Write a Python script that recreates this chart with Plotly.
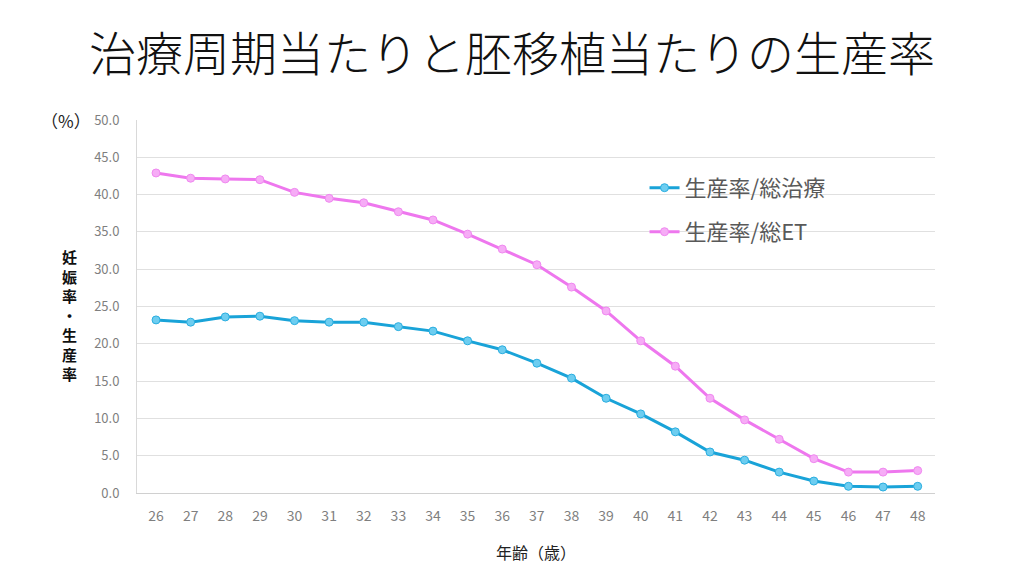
import plotly.graph_objects as go

ages = [str(a) for a in range(26, 49)]
birth_per_treatment = [23.2, 22.9, 23.6, 23.7, 23.1, 22.9, 22.9, 22.3, 21.7, 20.4, 19.2, 17.4,
                       15.4, 12.7, 10.6, 8.2, 5.5, 4.4, 2.8, 1.6, 0.9, 0.8, 0.9]
birth_per_et = [42.9, 42.2, 42.1, 42.0, 40.3, 39.5, 38.9, 37.7, 36.6, 34.7, 32.7, 30.6,
                27.6, 24.4, 20.4, 17.0, 12.7, 9.8, 7.2, 4.6, 2.8, 2.8, 3.0]
y_ticks = [0, 5, 10, 15, 20, 25, 30, 35, 40, 45, 50]
y_title = "妊娠率・生産率"

FONT = "Noto Sans CJK JP"

fig = go.Figure()
fig.add_trace(go.Scatter(
    x=ages, y=birth_per_treatment, mode="lines+markers", name="生産率/総治療",
    line=dict(color="#19a3d8", width=3),
    marker=dict(size=8, color="#6dcdf0", line=dict(color="#2aaee0", width=1)),
    legend="legend", showlegend=True,
))
fig.add_trace(go.Scatter(
    x=ages, y=birth_per_et, mode="lines+markers", name="生産率/総ET",
    line=dict(color="#ee77ee", width=3),
    marker=dict(size=8, color="#f6acf6", line=dict(color="#f088f0", width=1)),
    legend="legend2", showlegend=True,
))

legend_common = dict(font=dict(family=FONT, size=22, color="#595959"),
                     bgcolor="rgba(0,0,0,0)", xanchor="left", yanchor="middle",
                     itemwidth=30)
fig.update_layout(
    width=1024, height=576,
    margin=dict(l=137, r=89, t=120, b=83),
    paper_bgcolor="white", plot_bgcolor="white",
    font=dict(family=FONT),
    showlegend=True,
    title=dict(text="治療周期当たりと胚移植当たりの生産率", x=0.5, xanchor="center",
               y=0.905, yanchor="middle",
               font=dict(family=FONT, size=47, color="#111111", weight=300)),
    legend=dict(x=0.636, y=0.818, **legend_common),
    legend2=dict(x=0.636, y=0.70, **legend_common),
    xaxis=dict(type="category", showgrid=False, showline=True, linecolor="#d0d0d0",
               linewidth=1, ticks="", tickfont=dict(family=FONT, size=14, color="#7f7f7f"),
               ticklabelstandoff=10, range=[-0.55, 22.5]),
    yaxis=dict(range=[0, 50], tickvals=y_ticks, ticktext=[f"{v:.1f}" for v in y_ticks],
               showgrid=True, gridcolor="#e0e0e0", gridwidth=1, zeroline=False,
               showline=True, linecolor="#d9d9d9", linewidth=1, ticks="",
               tickfont=dict(family=FONT, size=13, color="#7f7f7f"), ticklabelstandoff=14),
)

fig.add_annotation(text="（%）", xref="paper", yref="paper", x=-0.055, y=1.0,
                   xanchor="right", yanchor="middle", showarrow=False,
                   font=dict(family=FONT, size=17, color="#222222"))
# vertical y-axis title, one character per line
fig.add_annotation(text="<br>".join(list(y_title)), xref="paper", yref="paper",
                   x=-0.085, y=0.477, xanchor="center", yanchor="middle", showarrow=False,
                   font=dict(family=FONT, size=15, color="#111111", weight="bold"))
fig.add_annotation(text="年齢（歳）", xref="paper", yref="paper", x=0.5, y=-0.158,
                   xanchor="center", yanchor="middle", showarrow=False,
                   font=dict(family=FONT, size=16, color="#222222"))

fig.write_html("out.html")
